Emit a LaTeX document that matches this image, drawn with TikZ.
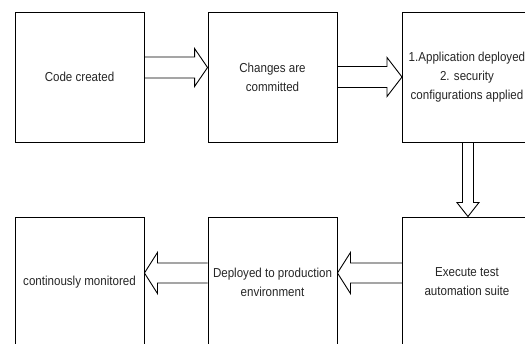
\documentclass[tikz,border=0pt]{standalone}
\usepackage{fontspec}
\setmainfont{Liberation Sans}[FakeStretch=0.89]
\usetikzlibrary{calc}

\tikzset{
	box/.style={draw, line width=0.9pt, minimum width=129, minimum height=130,
		align=center, inner sep=2pt, text=black!85, font=\fontsize{13}{19}\selectfont},
	block/.style n args={3}{line width=0.9pt, to path={
		coordinate (bs) (\tikztotarget) coordinate (bt)
		($(bt)!#3!(bs)$) coordinate (bh)
		($(bs)!#1!90:(bt)$) -- ($(bh)!#1!90:(bt)$) -- ($(bh)!#2!90:(bt)$) -- (bt)
		-- ($(bh)!#2!-90:(bt)$) -- ($(bh)!#1!-90:(bt)$) -- ($(bs)!#1!-90:(bt)$)
	}},
}

\begin{document}
\begin{tikzpicture}[x=1pt, y=1pt]
		\useasboundingbox (0, 0) rectangle (525, 343);

		% top row
		\node[box] (code) at (79.5, 266) {Code created};
		\node[box] (commit) at (272.5, 266) {Changes are\\committed};
		\node[box, anchor=west] (deploy) at (402, 266) {1.Application deployed\\2. security\\configurations applied};

		% bottom row
		\node[box] (monitor) at (79.5, 61) {continously monitored};
		\node[box] (prod) at (272.5, 61) {Deployed to production\\environment};
		\node[box, anchor=west] (test) at (402, 61) {Execute test\\automation suite};

		% arrows
		\draw[block={10.5pt}{19pt}{13pt}] ([yshift=9.5pt]code.east) to ([yshift=9.5pt]commit.west);
		\draw[block={10.5pt}{19.5pt}{15pt}] (commit.east) to (deploy.west);
		\draw[block={5.5pt}{11pt}{14pt}] ([xshift=1pt]deploy.south) to ([xshift=1pt]test.north);
		\draw[block={10pt}{20.5pt}{13pt}] ([yshift=9pt]test.west) to ([yshift=9pt]prod.east);
		\draw[block={10pt}{20.5pt}{13pt}] ([yshift=9pt]prod.west) to ([yshift=9pt]monitor.east);
	\end{tikzpicture}
\end{document}
